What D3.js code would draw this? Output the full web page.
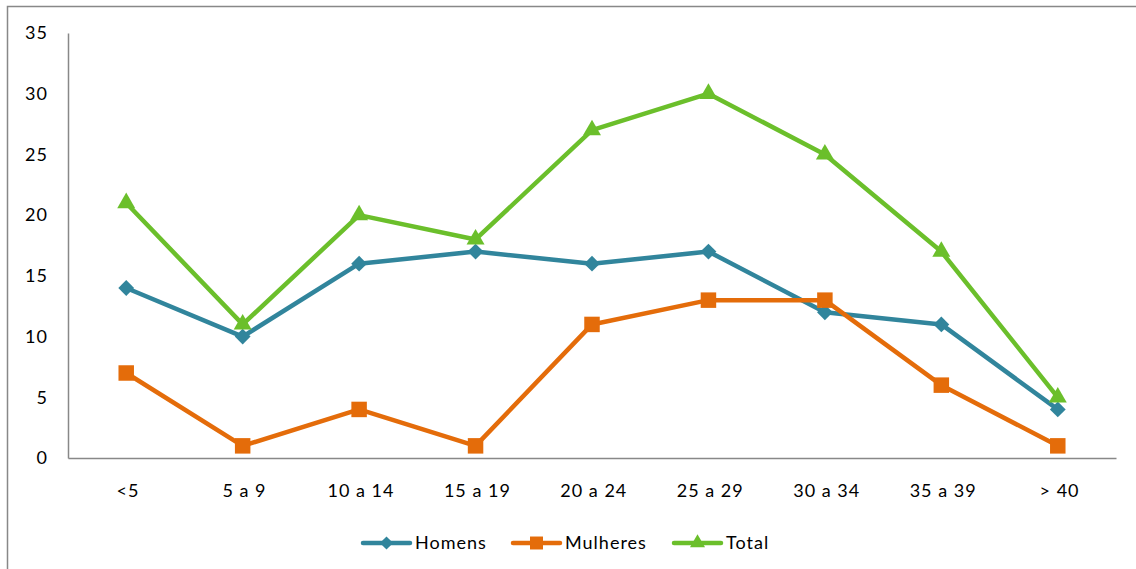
<!DOCTYPE html>
<html>
<head>
<meta charset="utf-8">
<script src="https://d3js.org/d3.v7.min.js"></script>
<style>
    body { margin: 0; background: white; }
    text { font-family: Lato, "Open Sans", sans-serif; fill: #000; letter-spacing: 1px; }
</style>
</head>
<body>
<div id="chart"></div>
<script>
// age groups and counts per group
var faixas = ["<5", "5 a 9", "10 a 14", "15 a 19", "20 a 24", "25 a 29", "30 a 34", "35 a 39", "> 40"];
var homens = [14, 10, 16, 17, 16, 17, 12, 11, 4];
var mulheres = [7, 1, 4, 1, 11, 13, 13, 6, 1];
var total = [21, 11, 20, 18, 27, 30, 25, 17, 5];
var yTicks = [0, 5, 10, 15, 20, 25, 30, 35];

var series = [
    {name: "Homens", values: homens, color: "#31859C", shape: d3.symbolSquare, size: 125, rot: 45},
    {name: "Mulheres", values: mulheres, color: "#E46C0A", shape: d3.symbolSquare, size: 240, rot: 0},
    {name: "Total", values: total, color: "#6BBF2B", shape: d3.symbolTriangle, size: 140, rot: 0}
];

var W = 1136, H = 569;
var plot = {left: 68, right: 1116, top: 33, bottom: 458};
var fontSize = "18px";

var svg = d3.select("#chart").append("svg")
    .attr("width", W).attr("height", H);

// outer frame
svg.append("rect")
    .attr("x", 7.5).attr("y", 6.5)
    .attr("width", W + 10).attr("height", H + 10)
    .attr("fill", "none").attr("stroke", "#888").attr("stroke-width", 1.5);

var x = d3.scaleBand().domain(faixas).range([plot.left, plot.right]);
var y = d3.scaleLinear().domain([0, 35]).range([plot.bottom, plot.top]);

// y axis
var gy = svg.append("g")
    .attr("transform", "translate(" + plot.left + ",0)")
    .call(d3.axisLeft(y).tickValues(yTicks).tickSize(0).tickPadding(20));
gy.select(".domain").attr("stroke", "#888").attr("stroke-width", 1.5);
gy.selectAll("text").style("font-size", fontSize).attr("font-family", null);

// x axis
var gx = svg.append("g")
    .attr("transform", "translate(0," + plot.bottom + ")")
    .call(d3.axisBottom(x).tickSize(0).tickPadding(26));
gx.select(".domain").attr("stroke", "#888").attr("stroke-width", 1.5);
gx.selectAll("text").style("font-size", fontSize).attr("font-family", null).attr("dx", "0.1em");

var cx = function(i) { return x(faixas[i]) + x.bandwidth() / 2; };

var line = d3.line()
    .x(function(d, i) { return cx(i); })
    .y(function(d) { return y(d); });

series.forEach(function(s) {
    svg.append("path")
        .datum(s.values)
        .attr("d", line)
        .attr("fill", "none")
        .attr("stroke", s.color)
        .attr("stroke-width", 4.5)
        .attr("stroke-linejoin", "round");

    svg.selectAll(null)
        .data(s.values)
        .enter()
        .append("path")
        .attr("d", d3.symbol().type(s.shape).size(s.size))
        .attr("transform", function(d, i) {
            return "translate(" + cx(i) + "," + y(d) + ") rotate(" + s.rot + ")";
        })
        .attr("fill", s.color);
});

// legend
var legendX = [361, 511, 672];
var legendY = 543;
series.forEach(function(s, i) {
    var g = svg.append("g").attr("transform", "translate(" + legendX[i] + "," + legendY + ")");
    g.append("line")
        .attr("x1", 2).attr("x2", 49)
        .attr("stroke", s.color).attr("stroke-width", 4.5).attr("stroke-linecap", "round");
    g.append("path")
        .attr("d", d3.symbol().type(s.shape).size(s.size * 0.7))
        .attr("transform", "translate(25.5,0) rotate(" + s.rot + ")")
        .attr("fill", s.color);
    g.append("text")
        .attr("x", 54).attr("y", 0).attr("dy", "0.35em")
        .style("font-size", fontSize)
        .text(s.name);
});
</script>
</body>
</html>
